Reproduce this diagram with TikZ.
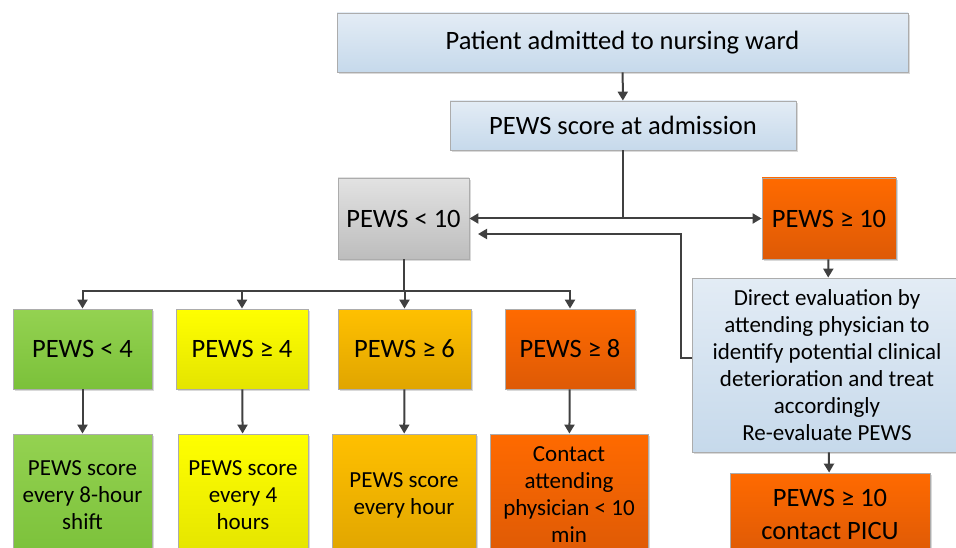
\documentclass[tikz,border=0pt]{standalone}
\usepackage{fontspec}
\setmainfont{Carlito}
\usetikzlibrary{arrows.meta,shadows}
\definecolor{bluetop}{HTML}{E3ECF5}
\definecolor{bluebot}{HTML}{C6D9EB}
\definecolor{greytop}{HTML}{E2E2E2}
\definecolor{greybot}{HTML}{BDBDBD}
\definecolor{greentop}{HTML}{94D251}
\definecolor{greenbot}{HTML}{7BC13A}
\definecolor{yellowtop}{HTML}{FFFF00}
\definecolor{yellowbot}{HTML}{E4E400}
\definecolor{ambertop}{HTML}{FFC000}
\definecolor{amberbot}{HTML}{E0A500}
\definecolor{orangetop}{HTML}{FF6A00}
\definecolor{orangebot}{HTML}{DE5A06}
\definecolor{arrowgrey}{HTML}{404040}
\tikzset{
  box/.style={draw=gray!65, line width=0.8pt, align=center, inner sep=2pt,
    drop shadow={opacity=0.3, shadow xshift=2pt, shadow yshift=-2pt}},
  bluebox/.style={box, top color=bluetop, bottom color=bluebot},
  greybox/.style={box, top color=greytop, bottom color=greybot},
  greenbox/.style={box, top color=greentop, bottom color=greenbot},
  yellowbox/.style={box, top color=yellowtop, bottom color=yellowbot},
  amberbox/.style={box, top color=ambertop, bottom color=amberbot},
  orangebox/.style={box, top color=orangetop, bottom color=orangebot},
  big/.style={font=\fontsize{26.5}{33}\selectfont},
  small/.style={font=\fontsize{23}{27}\selectfont},
  arr/.style={draw=arrowgrey, line width=2pt, -{Triangle[length=9pt,width=10pt]}},
}
\begin{document}
\begin{tikzpicture}[x=1pt, y=-1pt]
    \useasboundingbox (0,0) rectangle (956,548);
    \clip (0,0) rectangle (956,548);
    % top of the chart
    \node (ward) at (622.5, 42.5) [bluebox, big, minimum width=571pt, minimum height=59pt] {Patient admitted to nursing ward};
    \node (admission) at (623, 125.5) [bluebox, big, minimum width=346pt, minimum height=49pt] {PEWS score at admission};
    \node (low10) at (403.5, 218.5) [greybox, big, minimum width=131pt, minimum height=81pt] {PEWS < 10};
    \node (high10) at (829, 218.5) [orangebox, big, minimum width=134pt, minimum height=81pt] {PEWS ≥ 10};
    \node (eval) at (827, 365) [bluebox, small, minimum width=270pt, minimum height=174pt] {Direct evaluation by\\attending physician to\\identify potential clinical\\deterioration and treat\\accordingly\\Re-evaluate PEWS};
    \node (picu) at (830, 514) [orangebox, big, minimum width=200pt, minimum height=82pt] {PEWS ≥ 10\\contact PICU};
    % score bands
    \node (lt4) at (82.5, 349) [greenbox, big, minimum width=139pt, minimum height=80pt] {PEWS < 4};
    \node (ge4) at (242, 349) [yellowbox, big, minimum width=132pt, minimum height=80pt] {PEWS ≥ 4};
    \node (ge6) at (404.5, 349) [amberbox, big, minimum width=133pt, minimum height=80pt] {PEWS ≥ 6};
    \node (ge8) at (570, 349) [orangebox, big, minimum width=130pt, minimum height=80pt] {PEWS ≥ 8};
    % actions
    \node (every8) at (82.5, 495) [greenbox, small, minimum width=139pt, minimum height=122pt] {PEWS score\\every 8-hour\\shift};
    \node (every4) at (243, 495) [yellowbox, small, minimum width=130pt, minimum height=122pt] {PEWS score\\every 4\\hours};
    \node (hourly) at (404, 495) [amberbox, small, minimum width=144pt, minimum height=122pt] {PEWS score\\every hour};
    \node (contact) at (569, 495) [orangebox, small, minimum width=158pt, minimum height=122pt] {Contact\\attending\\physician < 10\\min};
    \coordinate (back) at (478, 234);
    \draw[arr] (ward) -- (admission);
    \draw[arr] (admission.south) |- (low10.east);
    \draw[arr] (admission.south) |- (high10.west);
    \draw[arr] (high10) -- (eval);
    \draw[arr] (eval) -- (picu);
    \draw[arr] ([yshift=7pt]eval.west) -- ++(-11, 0) |- (back);
    \draw[arr] (low10.south) -- ++(0, 32) -| (lt4.north);
    \draw[arr] (low10.south) -- ++(0, 32) -| (ge4.north);
    \draw[arr] (low10.south) -- ++(0, 32) -| (ge6.north);
    \draw[arr] (low10.south) -- ++(0, 32) -| (ge8.north);
    \draw[arr] (lt4) -- (every8);
    \draw[arr] (ge4) -- (every4);
    \draw[arr] (ge6) -- (hourly);
    \draw[arr] (ge8) -- (contact);
\end{tikzpicture}
\end{document}
